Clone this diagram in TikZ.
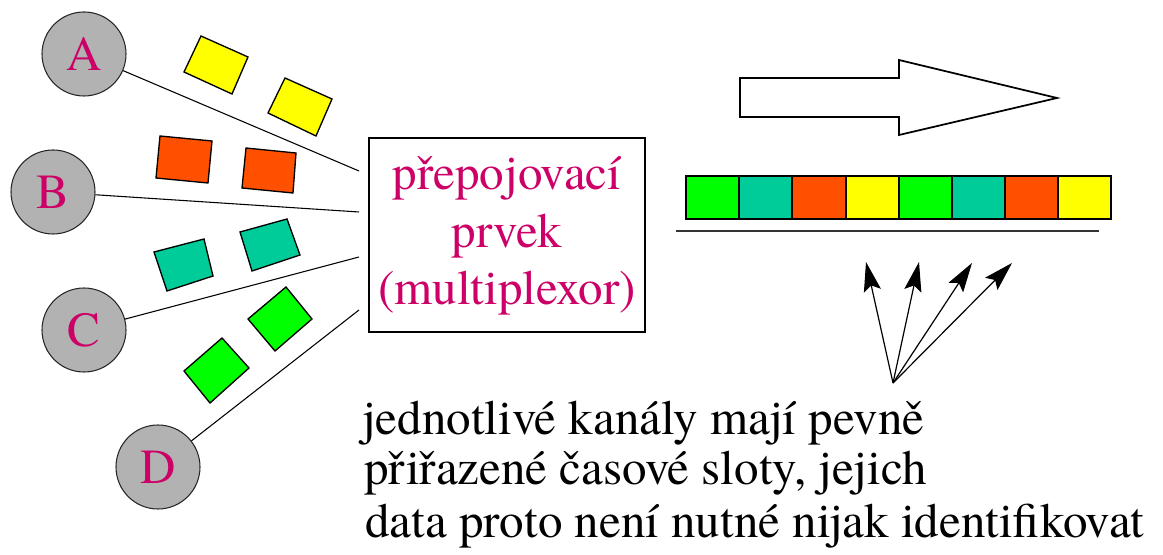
\documentclass[tikz,border=0pt]{standalone}
\usepackage{fontspec}
\setmainfont{TeX Gyre Termes}
\usetikzlibrary{arrows.meta}
\definecolor{mag}{HTML}{CC0066}
\definecolor{cgray}{HTML}{B2B2B2}
\definecolor{cyel}{HTML}{FFFF00}
\definecolor{cred}{HTML}{FF5000}
\definecolor{cteal}{HTML}{00CC99}
\definecolor{cgreen}{HTML}{00FF00}
\tikzset{
  big/.style={font=\fontsize{36.75}{44}\selectfont},
  station/.style={circle,draw=black!85,line width=0.8pt,fill=cgray,minimum size=63pt,inner sep=0pt,text=mag,big},
  wire/.style={draw=black,line width=0.8pt},
  packet/.style={draw=black,line width=1pt},
  cell/.style={draw=black,line width=1.3pt},
  boxtxt/.style={text=mag,big,inner sep=0pt,anchor=base},
  note/.style={big,inner sep=0pt,anchor=base west},
  slotarrow/.style={draw=black,line width=0.9pt,-{Stealth[length=22pt,width=13pt,inset=4pt]}}
}
\begin{document}
\begin{tikzpicture}[x=0.75pt,y=-0.75pt]
\useasboundingbox (0,0) rectangle (1163,555);
% stations
\node[station] (A) at (84,54) {A};
\node[station] (B) at (53,192) {B};
\node[station] (C) at (84,330) {C};
\node[station] (D) at (158,467) {D};
% multiplexer box
\node[draw=black,line width=1.5pt,minimum width=207pt,minimum height=145.5pt,inner sep=0pt] (mux) at (507,235) {};
\node[boxtxt] (t1) at (507,190) {přepojovací};
\node[boxtxt] (t2) at (507,248) {prvek};
\node[boxtxt] (t3) at (507,305) {(multiplexor)};
% wire ends at the box
\coordinate (pa) at (359,171);
\coordinate (pb) at (359,212);
\coordinate (pc) at (359,257);
\coordinate (pd) at (359,310);
\draw[wire] (A) -- (pa);
\draw[wire] (B) -- (pb);
\draw[wire] (C) -- (pc);
\draw[wire] (D) -- (pd);
% packets
\filldraw[packet,fill=cyel] (201,36) -- (248,57) -- (232,94) -- (184,72) -- cycle;
\filldraw[packet,fill=cyel] (285,78) -- (332,99) -- (316,136) -- (268,113) -- cycle;
\filldraw[packet,fill=cred] (160,136) -- (212,141) -- (208,183) -- (156,178) -- cycle;
\filldraw[packet,fill=cred] (246,148) -- (296,153) -- (293,193) -- (242,188) -- cycle;
\filldraw[packet,fill=cteal] (154,252) -- (204,239) -- (213,276) -- (167,291) -- cycle;
\filldraw[packet,fill=cteal] (240,232) -- (287,219) -- (300,255) -- (252,271) -- cycle;
\filldraw[packet,fill=cgreen] (286,287) -- (312,319) -- (275,351) -- (248,319) -- cycle;
\filldraw[packet,fill=cgreen] (222,338) -- (249,368) -- (210,403) -- (184,371) -- cycle;
% big arrow
\draw[line width=1.3pt,fill=white] (740,78) -- (899,78) -- (899,60) -- (1057,98) -- (899,135) -- (899,117) -- (740,117) -- cycle;
% time slot strip
\filldraw[cell,fill=cgreen] (686,176) rectangle (739,219);
\filldraw[cell,fill=cteal] (739,176) rectangle (792,219);
\filldraw[cell,fill=cred] (792,176) rectangle (846,219);
\filldraw[cell,fill=cyel] (846,176) rectangle (899,219);
\filldraw[cell,fill=cgreen] (899,176) rectangle (952,219);
\filldraw[cell,fill=cteal] (952,176) rectangle (1005,219);
\filldraw[cell,fill=cred] (1005,176) rectangle (1058,219);
\filldraw[cell,fill=cyel] (1058,176) rectangle (1111,219);
\draw[line width=1.6pt,draw=black!80] (676,231) -- (1099,231);
% slot arrows
\coordinate (o) at (893,383);
\coordinate (s1) at (866,262);
\coordinate (s2) at (919,262);
\coordinate (s3) at (972,263);
\coordinate (s4) at (1012,263);
\draw[slotarrow] (o) -- (s1);
\draw[slotarrow] (o) -- (s2);
\draw[slotarrow] (o) -- (s3);
\draw[slotarrow] (o) -- (s4);
% note
\node[note] (n1) at (362,435) {jednotlivé kanály mají pevně};
\node[note] (n2) at (364,484) {přiřazené časové sloty, jejich};
\node[note] (n3) at (365,537) {data proto není nutné nijak identifikovat};
\end{tikzpicture}
\end{document}
